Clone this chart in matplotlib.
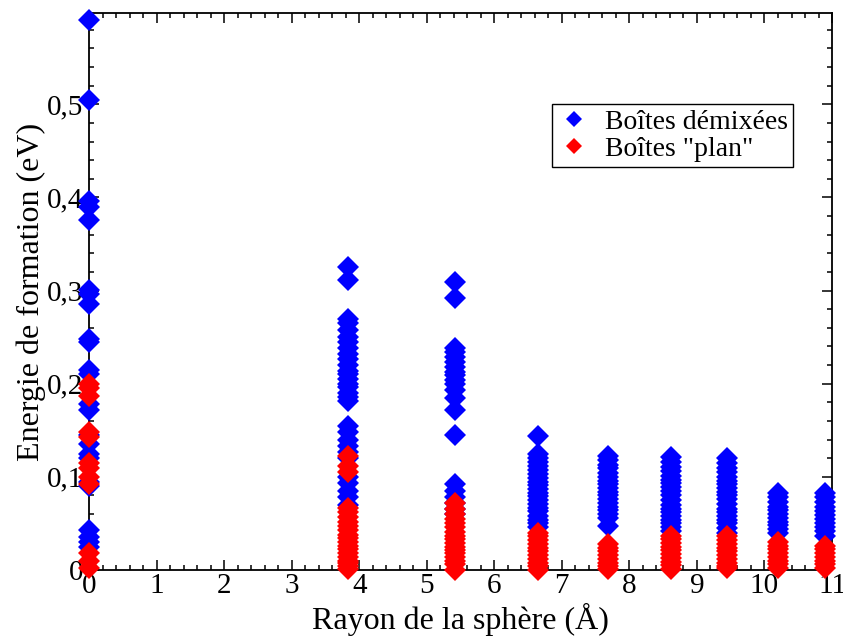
import numpy as np
import matplotlib.pyplot as plt
from matplotlib.ticker import MultipleLocator, FixedLocator, FixedFormatter

plt.rcParams['font.family'] = ['Liberation Serif', 'DejaVu Serif']

# sphere radius of each shell (Angstrom)
radii = [0.0, 3.84, 5.42, 6.65, 7.68, 8.62, 9.45, 10.2, 10.9]

# formation energies (eV), "demixed" boxes, one list per shell
blue_r0 = [0.59, 0.505, 0.396, 0.39, 0.376, 0.301, 0.296, 0.286, 0.248, 0.245,
           0.215, 0.21, 0.178, 0.172, 0.145, 0.135, 0.125, 0.12, 0.095, 0.09,
           0.043, 0.035, 0.03, 0.025]
blue_r1 = [0.325, 0.311, 0.27, 0.265, 0.258, 0.25, 0.245, 0.238, 0.232, 0.226,
           0.22, 0.214, 0.21, 0.205, 0.2, 0.196, 0.19, 0.186, 0.181, 0.155,
           0.148, 0.14, 0.133, 0.127, 0.12, 0.1, 0.093, 0.085, 0.078, 0.07]
blue_r2 = [0.309, 0.292, 0.238, 0.234, 0.229, 0.223, 0.218, 0.213, 0.209, 0.204,
           0.2, 0.193, 0.185, 0.172, 0.145, 0.092, 0.085, 0.078, 0.072, 0.065, 0.06]
blue_r3 = [0.144, 0.124, 0.12, 0.116, 0.112, 0.107, 0.103, 0.099, 0.095, 0.091,
           0.087, 0.083, 0.079, 0.075, 0.071, 0.067, 0.063, 0.058, 0.054, 0.05, 0.046]
blue_r4 = [0.122, 0.118, 0.113, 0.109, 0.104, 0.1, 0.096, 0.092, 0.088, 0.084,
           0.08, 0.076, 0.072, 0.068, 0.064, 0.06, 0.056, 0.047]
blue_r5 = [0.121, 0.116, 0.111, 0.106, 0.101, 0.097, 0.093, 0.089, 0.085, 0.08,
           0.075, 0.07, 0.066, 0.062, 0.058, 0.054, 0.05, 0.046, 0.042]
blue_r6 = [0.12, 0.115, 0.11, 0.105, 0.1, 0.096, 0.092, 0.088, 0.084, 0.08,
           0.076, 0.071, 0.066, 0.062, 0.058, 0.054, 0.05, 0.045, 0.04]
blue_r7 = [0.083, 0.078, 0.073, 0.068, 0.064, 0.06, 0.056, 0.052, 0.048, 0.044, 0.04]
blue_r8 = [0.083, 0.078, 0.073, 0.068, 0.063, 0.059, 0.055, 0.05, 0.046, 0.042, 0.036]

# formation energies (eV), "plan" boxes
red_r0 = [0.2, 0.195, 0.187, 0.148, 0.143, 0.115, 0.11, 0.1, 0.092, 0.018, 0.01, 0.002]
red_r1 = [0.122, 0.112, 0.105, 0.067, 0.062, 0.057, 0.052, 0.047, 0.043, 0.038,
          0.034, 0.03, 0.026, 0.022, 0.018, 0.014, 0.01, 0.007, 0.004, 0.001]
red_r2 = [0.072, 0.066, 0.06, 0.055, 0.05, 0.046, 0.041, 0.037, 0.033, 0.029,
          0.025, 0.021, 0.018, 0.014, 0.01, 0.006, 0.0]
red_r3 = [0.04, 0.036, 0.032, 0.028, 0.024, 0.02, 0.016, 0.012, 0.008, 0.004, 0.0]
red_r4 = [0.028, 0.024, 0.02, 0.016, 0.012, 0.008, 0.004, 0.001]
red_r5 = [0.037, 0.033, 0.029, 0.025, 0.021, 0.017, 0.013, 0.009, 0.005, 0.001]
red_r6 = [0.036, 0.032, 0.028, 0.024, 0.02, 0.016, 0.012, 0.008, 0.004, 0.002]
red_r7 = [0.03, 0.026, 0.022, 0.018, 0.014, 0.01, 0.006, 0.002]
red_r8 = [0.026, 0.022, 0.018, 0.014, 0.01, 0.006, 0.002]

blue_sets = [blue_r0, blue_r1, blue_r2, blue_r3, blue_r4, blue_r5, blue_r6, blue_r7, blue_r8]
red_sets = [red_r0, red_r1, red_r2, red_r3, red_r4, red_r5, red_r6, red_r7, red_r8]

y_ticks = [0, 0.1, 0.2, 0.3, 0.4, 0.5]
y_labels = ['0', '0,1', '0,2', '0,3', '0,4', '0,5']

fig = plt.figure(figsize=(8.43, 6.38), dpi=100)
ax = fig.add_axes([0.1056, 0.1066, 0.8814, 0.873])

def flatten(sets):
    xs, ys = [], []
    for r, vals in zip(radii, sets):
        xs += [r] * len(vals)
        ys += vals
    return xs, ys

bx, by = flatten(blue_sets)
rx, ry = flatten(red_sets)
ax.plot(bx, by, 'D', color='#0000ff', ms=11.5, mew=0, clip_on=False, zorder=3,
        label='Boîtes démixées')
ax.plot(rx, ry, 'D', color='#ff0000', ms=11.5, mew=0, clip_on=False, zorder=4,
        label='Boîtes "plan"')

ax.set_xlim(0, 11)
ax.set_ylim(0, 0.598)
ax.xaxis.set_major_locator(MultipleLocator(1))
ax.xaxis.set_minor_locator(MultipleLocator(0.2))
ax.yaxis.set_major_locator(FixedLocator(y_ticks))
ax.yaxis.set_major_formatter(FixedFormatter(y_labels))
ax.yaxis.set_minor_locator(MultipleLocator(0.02))
ax.tick_params(which='both', direction='in', top=True, right=True, width=1.1)
ax.tick_params(which='major', length=7, labelsize=21)
ax.tick_params(axis='x', which='major', pad=2)
ax.tick_params(axis='y', which='major', pad=4)
ax.tick_params(which='minor', length=3.5)
for s in ax.spines.values():
    s.set_linewidth(1.3)

ax.set_xlabel('Rayon de la sphère (Å)', fontsize=23, labelpad=3)
ax.set_ylabel('Energie de formation (eV)', fontsize=23, labelpad=1)

leg = ax.legend(loc='upper left', bbox_to_anchor=(552 / 843, 1 - 104 / 638),
                bbox_transform=fig.transFigure, fontsize=20, fancybox=False,
                framealpha=1, edgecolor='black', borderaxespad=0, markerscale=0.72,
                handlelength=1.2, handletextpad=0.5, borderpad=0.2, labelspacing=0.05)
leg.get_frame().set_linewidth(1.0)

fig.savefig('out.png', dpi=100)
